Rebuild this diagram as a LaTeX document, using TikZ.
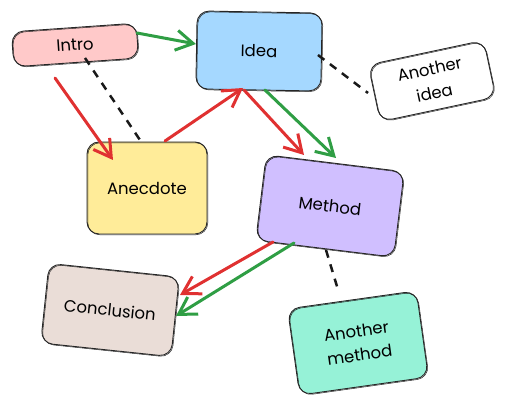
\documentclass[tikz,border=0pt]{standalone}
\usepackage{fontspec}
\setmainfont{Poppins}
\usetikzlibrary{arrows.meta,calc}
\definecolor{introc}{HTML}{FFC9C9}
\definecolor{ideac}{HTML}{A5D8FF}
\definecolor{anecc}{HTML}{FFEC99}
\definecolor{methc}{HTML}{D0BFFF}
\definecolor{amethc}{HTML}{96F2D7}
\definecolor{concc}{HTML}{EADDD7}
\definecolor{redc}{HTML}{E03131}
\definecolor{greenc}{HTML}{2F9E44}
\tikzset{
  box/.style={draw=black!85, line width=0.9pt, rounded corners=12pt, align=center,
    font=\fontsize{16.5}{24}\selectfont, inner sep=0pt,
    postaction={draw=black!85, line width=0.5pt, transform canvas={xshift=0.8pt,yshift=-0.8pt}}},
  link/.style={line width=3pt, line cap=round, -{Straight Barb[length=17pt,width=20pt,line width=3pt]}},
  redlink/.style={link, draw=redc},
  greenlink/.style={link, draw=greenc},
  dashlink/.style={line width=2.5pt, draw=black!90, dash pattern=on 8pt off 7pt}
}
\begin{document}
\begin{tikzpicture}[x=1pt,y=-1pt]
\useasboundingbox (0,0) rectangle (507,411);
\node[box, fill=introc, minimum width=125pt, minimum height=35pt, rotate=4] (intro) at (75,45) {Intro};
\node[box, fill=ideac, minimum width=125pt, minimum height=78pt, rotate=-1] (idea) at (259,51) {Idea};
\node[box, fill=white, minimum width=118pt, minimum height=58pt, rotate=12] (aidea) at (432,81) {Another\\idea};
\node[box, fill=anecc, minimum width=120pt, minimum height=92pt] (anec) at (147,188) {Anecdote};
\node[box, fill=methc, minimum width=139pt, minimum height=86pt, rotate=-7] (meth) at (330,206) {Method};
\node[box, fill=amethc, minimum width=130pt, minimum height=87pt, rotate=8] (ameth) at (358,343) {Another\\method};
\node[box, fill=concc, minimum width=131pt, minimum height=80pt, rotate=-6] (conc) at (110,310) {Conclusion};

\draw[dashlink] ($(intro.center)+(10,13)$) -- ($(anec.center)+(-7,-48)$);
\draw[dashlink] ($(idea.center)+(59,4)$) -- ($(aidea.center)+(-64,12)$);
\draw[dashlink] ($(meth.center)+(-4,44)$) -- ($(ameth.center)+(-19,-50)$);

\draw[greenlink] ($(intro.center)+(62,-12)$) -- ($(idea.center)+(-63,-7)$);
\draw[redlink] ($(intro.center)+(-20,33)$) -- ($(anec.center)+(-34,-28)$);
\draw[redlink] ($(anec.center)+(18,-47)$) -- ($(idea.center)+(-16,37)$);
\draw[redlink] ($(idea.center)+(-15,39)$) -- ($(meth.center)+(-26,-51)$);
\draw[greenlink] ($(idea.center)+(6,39)$) -- ($(meth.center)+(6,-48)$);
\draw[redlink] ($(meth.center)+(-57,36)$) -- ($(conc.center)+(70,-15)$);
\draw[greenlink] ($(meth.center)+(-36,37)$) -- ($(conc.center)+(66,6)$);
\end{tikzpicture}
\end{document}
